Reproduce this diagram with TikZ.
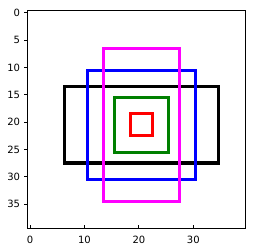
\documentclass[tikz,border=0pt]{standalone}
\usepackage{fontspec}
\setmainfont{DejaVu Sans}
\definecolor{mplmagenta}{RGB}{255,0,255}
\definecolor{mplblue}{RGB}{0,0,255}
\definecolor{mplgreen}{RGB}{0,128,0}
\definecolor{mplred}{RGB}{255,0,0}
\begin{document}
\begin{tikzpicture}[x=1bp,y=-1bp,
  frame/.style={line width=0.8bp,black},
  tick/.style={line width=0.8bp,black},
  ticklabel/.style={font=\fontsize{10bp}{12bp}\selectfont,inner sep=0pt},
  box/.style={line width=3bp}]
\useasboundingbox (0,0) rectangle (255,252);
\fill[white] (0,0) rectangle (255,252);
% data region
\begin{scope}[shift={(30.02bp,-12.73bp)},x=5.4425bp,y=-5.4675bp]
  \draw[box,black,line width=3.5bp] (6.3,13.5) rectangle (34.6,27.5);
  \draw[box,mplblue] (10.5,10.5) rectangle (30.4,30.5);
  \draw[box,mplgreen] (15.5,15.5) rectangle (25.5,25.5);
  \draw[box,mplred] (18.5,18.5) rectangle (22.5,22.4);
  \draw[box,mplmagenta] (13.5,6.5) rectangle (27.5,34.5);
  % axes frame
  \draw[frame] (-0.5,-0.5) rectangle (39.5,39.5);
  \foreach \v in {0,10,20,30} {
    \coordinate (xt\v) at (\v,39.5);
    \draw[tick] (xt\v) -- ++(0,3.5bp);
    \node[ticklabel,anchor=north] (xl\v) at ([yshift=-7bp]xt\v) {\v};
  }
  \foreach \v in {0,5,10,15,20,25,30,35} {
    \coordinate (yt\v) at (-0.5,\v);
    \draw[tick] (yt\v) -- ++(-3.5bp,0);
    \node[ticklabel,anchor=east] (yl\v) at ([xshift=-7bp]yt\v) {\v};
  }
\end{scope}
\end{tikzpicture}
\end{document}
